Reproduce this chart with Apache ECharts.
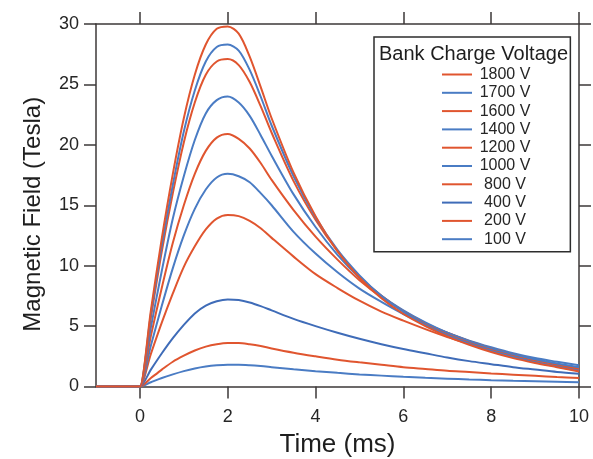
<!DOCTYPE html>
<html>
<head>
<meta charset="utf-8">
<script src="https://cdn.jsdelivr.net/npm/echarts@6/dist/echarts.min.js"></script>
<style>
html,body{margin:0;padding:0;background:#fff;}
#chart{width:593px;height:459px;}
</style>
</head>
<body>
<div id="chart"></div>
<script>
// Time points (ms)
const timeMs = [-1, -0.02, 0, 0.25, 0.5, 0.75, 1, 1.25, 1.5, 1.75, 2, 2.25, 2.5, 2.75, 3, 3.5, 4, 4.5, 5, 5.5, 6, 6.5, 7, 7.5, 8, 8.5, 9, 9.5, 10];

// Magnetic field (Tesla) per bank charge voltage
const b1800 = [0, 0, 0, 6.3, 12.3, 17.6, 22.2, 25.8, 28.3, 29.6, 29.8, 29.2, 27.3, 24.8, 22.2, 17.7, 14.1, 11.2, 9.0, 7.3, 6.0, 5.0, 4.15, 3.45, 2.85, 2.35, 1.95, 1.6, 1.25];
const b1700 = [0, 0, 0, 6.0, 11.7, 16.7, 21.1, 24.5, 26.9, 28.1, 28.3, 27.8, 26.2, 24.0, 21.6, 17.4, 14.0, 11.3, 9.2, 7.5, 6.2, 5.1, 4.25, 3.55, 2.95, 2.45, 2.0, 1.65, 1.3];
const b1600 = [0, 0, 0, 5.7, 11.2, 16.0, 20.2, 23.5, 25.8, 26.9, 27.1, 26.6, 25.2, 23.2, 21.0, 17.0, 13.8, 11.2, 9.1, 7.5, 6.2, 5.15, 4.3, 3.6, 3.0, 2.5, 2.05, 1.7, 1.35];
const b1400 = [0, 0, 0, 4.9, 9.6, 13.9, 17.4, 20.4, 22.6, 23.7, 24.0, 23.5, 22.4, 20.8, 19.1, 15.9, 13.2, 10.9, 9.0, 7.5, 6.3, 5.3, 4.45, 3.75, 3.15, 2.65, 2.25, 1.9, 1.6];
const b1200 = [0, 0, 0, 4.2, 8.2, 11.9, 15.0, 17.6, 19.5, 20.6, 20.9, 20.5, 19.7, 18.5, 17.1, 14.6, 12.4, 10.5, 8.8, 7.4, 6.25, 5.25, 4.45, 3.75, 3.15, 2.65, 2.2, 1.85, 1.5];
const b1000 = [0, 0, 0, 3.4, 6.7, 9.8, 12.5, 14.7, 16.3, 17.3, 17.6, 17.4, 16.9, 16.0, 15.0, 12.8, 11.0, 9.45, 8.1, 7.0, 6.0, 5.15, 4.45, 3.8, 3.25, 2.75, 2.35, 2.05, 1.75];
const b800  = [0, 0, 0, 2.7, 5.3, 7.7, 9.9, 11.6, 13.0, 13.9, 14.2, 14.1, 13.7, 13.1, 12.3, 10.75, 9.3, 8.15, 7.1, 6.2, 5.45, 4.75, 4.1, 3.55, 3.05, 2.6, 2.2, 1.8, 1.4];
const b400  = [0, 0, 0, 1.4, 2.75, 4.0, 5.1, 6.05, 6.7, 7.05, 7.2, 7.15, 6.95, 6.65, 6.3, 5.6, 5.0, 4.45, 3.95, 3.5, 3.1, 2.75, 2.4, 2.1, 1.85, 1.6, 1.4, 1.2, 1.05];
const b200  = [0, 0, 0, 0.7, 1.4, 2.05, 2.55, 2.98, 3.3, 3.5, 3.6, 3.6, 3.5, 3.35, 3.15, 2.8, 2.5, 2.22, 2.0, 1.8, 1.6, 1.45, 1.3, 1.2, 1.08, 0.98, 0.88, 0.78, 0.7];
const b100  = [0, 0, 0, 0.35, 0.7, 1.0, 1.27, 1.49, 1.65, 1.75, 1.8, 1.8, 1.76, 1.69, 1.6, 1.42, 1.27, 1.13, 1.0, 0.9, 0.8, 0.72, 0.65, 0.58, 0.52, 0.47, 0.43, 0.39, 0.35];

const seriesNames = ['1800 V', '1700 V', '1600 V', '1400 V', '1200 V', '1000 V', '800 V', '400 V', '200 V', '100 V'];
const seriesValues = [b1800, b1700, b1600, b1400, b1200, b1000, b800, b400, b200, b100];

const xTicks = [0, 2, 4, 6, 8, 10];

const RED = '#e0552f';
const BLUE = '#4a7cc4';
const seriesColors = [RED, BLUE, RED, BLUE, RED, BLUE, RED, '#3f6cb8', RED, BLUE];

const FONT = '"Liberation Sans", Arial, Helvetica, sans-serif';
const AX = '#3d3838';
const TXT = '#262626';

const chart = echarts.init(document.getElementById('chart'), null, {renderer: 'canvas'});

const axisLine = {show: true, onZero: false, lineStyle: {color: AX, width: 1.5}};
const tickStyle = {color: AX, width: 1.5};

const option = {
  backgroundColor: '#ffffff',
  animation: false,
  title: {
    text: 'Bank Charge Voltage',
    left: 379,
    top: 43,
    padding: 0,
    z: 10,
    textStyle: {fontFamily: FONT, fontSize: 20, fontWeight: 'normal', color: '#1e1e1e', lineHeight: 22}
  },
  legend: {
    data: seriesNames,
    orient: 'vertical',
    left: 374,
    top: 37,
    padding: [29.5, 40, 4.5, 68],
    itemWidth: 30,
    itemHeight: 2,
    itemGap: 2.3,
    icon: 'rect',
    borderColor: '#2d2d2d',
    borderWidth: 1.5,
    backgroundColor: '#ffffff',
    formatter: '{a|{name}}',
    textStyle: {
      fontFamily: FONT,
      fontSize: 16,
      rich: {a: {width: 56, align: 'center', fontSize: 16, color: TXT, fontFamily: FONT}}
    }
  },
  grid: {left: 96, right: 14, top: 24, bottom: 72.5, containLabel: false, outerBoundsMode: 'none'},
  xAxis: [
    {
      type: 'value', min: -1, max: 10, position: 'bottom',
      axisLine: axisLine,
      axisTick: {show: true, inside: false, length: 12, customValues: xTicks, lineStyle: tickStyle},
      axisLabel: {customValues: xTicks, margin: 22, fontSize: 18, color: TXT, fontFamily: FONT},
      splitLine: {show: false},
      name: 'Time (ms)', nameLocation: 'middle', nameGap: 39,
      nameTextStyle: {fontSize: 26, color: '#1e1e1e', fontFamily: FONT}
    },
    {
      type: 'value', min: -1, max: 10, position: 'top',
      axisLine: axisLine,
      axisTick: {show: true, inside: false, length: 12, customValues: xTicks, lineStyle: tickStyle},
      axisLabel: {show: false},
      splitLine: {show: false}
    }
  ],
  yAxis: [
    {
      type: 'value', min: 0, max: 30, interval: 5, position: 'left',
      axisLine: axisLine,
      axisTick: {show: true, inside: false, length: 12, lineStyle: tickStyle},
      axisLabel: {margin: 17, fontSize: 18, color: TXT, fontFamily: FONT},
      splitLine: {show: false},
      name: 'Magnetic Field (Tesla)', nameLocation: 'middle', nameGap: 51,
      nameTextStyle: {fontSize: 24, color: '#1e1e1e', fontFamily: FONT, padding: [0, 18, 0, 0]}
    },
    {
      type: 'value', min: 0, max: 30, interval: 5, position: 'right',
      axisLine: axisLine,
      axisTick: {show: true, inside: false, length: 12, lineStyle: tickStyle},
      axisLabel: {show: false},
      splitLine: {show: false}
    }
  ],
  series: seriesNames.map((name, k) => ({
    name: name,
    type: 'line',
    xAxisIndex: 0,
    yAxisIndex: 0,
    showSymbol: false,
    smooth: 0.3,
    z: 2 + (10 - k) * 0.01,
    color: seriesColors[k],
    lineStyle: {color: seriesColors[k], width: 2},
    itemStyle: {color: seriesColors[k]},
    data: timeMs.map((t, i) => [t, seriesValues[k][i]])
  }))
};

chart.setOption(option);
</script>
</body>
</html>
